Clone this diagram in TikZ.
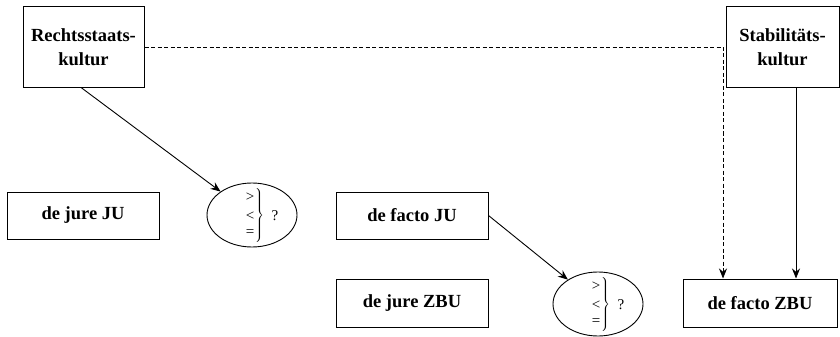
\documentclass[tikz,border=0pt]{standalone}
\usepackage{fontspec}
\setmainfont{Liberation Serif}
\usetikzlibrary{shapes.geometric,arrows.meta}
\begin{document}
\begin{tikzpicture}[x=1pt,y=-1pt,
  box/.style={draw,line width=1pt,rectangle,inner sep=0pt,align=center,
    font=\fontsize{18.5}{24}\selectfont\bfseries},
  oval/.style={draw,line width=0.9pt,ellipse,minimum width=90pt,minimum height=64pt,inner sep=0pt},
  cmp/.style={inner sep=0pt,font=\fontsize{15}{18}\selectfont},
  arr/.style={line width=0.9pt,-{Stealth[length=10pt,width=8pt]}},
  darr/.style={arr,dash pattern=on 4pt off 2.5pt}]
\useasboundingbox (0,0) rectangle (840,337);
\node[box,minimum width=121pt,minimum height=80pt] (rk) at (83.5,47) {Rechtsstaats-\\kultur};
\node[box,minimum width=113pt,minimum height=80pt] (sk) at (782.5,47) {Stabilitäts-\\kultur};
\node[box,minimum width=152pt,minimum height=47pt] (djju) at (83,215.5) {de jure JU};
\node[box,minimum width=152pt,minimum height=47pt] (dfju) at (412,215.5) {de facto JU};
\node[box,minimum width=152pt,minimum height=48pt] (djzbu) at (412,303) {de jure ZBU};
\node[box,minimum width=154pt,minimum height=48pt] (dfzbu) at (760,303) {de facto ZBU};
\foreach \e/\cx/\cy in {e1/252/215, e2/598/304}{
  \node[oval] (\e) at (\cx,\cy) {};
  \node[cmp] (\e gt) at (\cx-2,\cy-18) {>};
  \node[cmp] (\e lt) at (\cx-2,\cy+1) {<};
  \node[cmp] (\e eq) at (\cx-2,\cy+18) {=};
  \node[cmp] (\e br) at (\cx+7,\cy+0.5) {$\left.\vrule height 24pt depth 24pt width 0pt\right\}$};
  \node[cmp] (\e q) at (\cx+23,\cy+1) {?};
}
\coordinate (dc) at (723,47);
\coordinate (sc) at (796,0);
\draw[arr] ([xshift=-2.5pt]rk.south) -- (e1);
\draw[arr] (dfju.east) -- (e2);
\draw[darr] (rk.east) -- (dc) -- (dc |- dfzbu.north);
\draw[arr] (sk.south -| sc) -- (dfzbu.north -| sc);
\end{tikzpicture}
\end{document}
